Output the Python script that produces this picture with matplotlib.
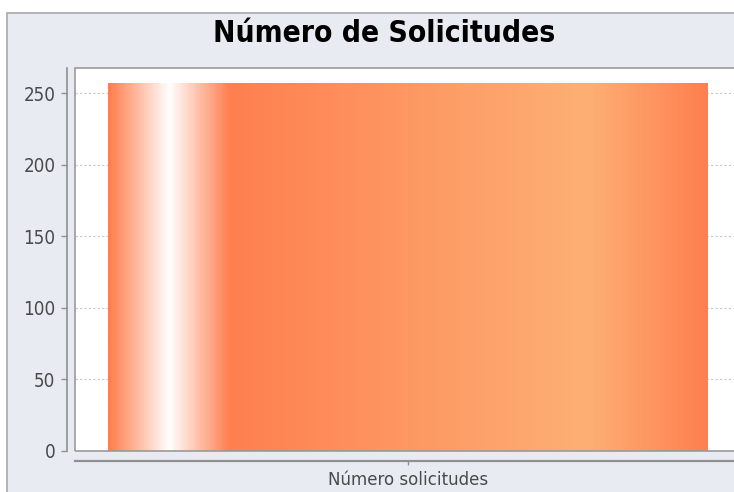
import numpy as np
import matplotlib
matplotlib.use("Agg")
import matplotlib.pyplot as plt
from matplotlib.colors import LinearSegmentedColormap
from matplotlib.patches import Rectangle

# ---- data ----
categories = ["Número solicitudes"]
values = [257]
yticks = [0, 50, 100, 150, 200, 250]
title = "Número de Solicitudes"

W, H = 734, 492
fig = plt.figure(figsize=(W / 100, H / 100), dpi=100)
fig.patch.set_facecolor("white")

def fx(px):
    return px / W

def fy(py):
    return 1 - py / H

# outer chart panel
panel = Rectangle((fx(7), -0.2), 1.2, fy(13) + 0.2, transform=fig.transFigure,
                  facecolor="#e9ebf3", edgecolor="#a8a8a8", linewidth=1.2, zorder=-10)
fig.patches.append(panel)

fig.text(fx(384), fy(34), title, ha="center", va="center", fontsize=21.5,
         fontweight="bold", color="black", fontstretch="condensed")

left, right, top, bottom = 75, 741, 68, 451
ax = fig.add_axes([fx(left), fy(bottom), fx(right - left), (bottom - top) / H])
ax.set_facecolor("white")

x = np.arange(len(categories))
bars = ax.bar(x, values, width=0.9, color="none", edgecolor="none", zorder=3)

# gradient fill (coral -> white -> coral -> light -> coral)
c0 = (255 / 255, 127 / 255, 80 / 255)
c1 = (253 / 255, 176 / 255, 116 / 255)
cmap = LinearSegmentedColormap.from_list(
    "grad", [(0.0, c0), (0.1, (1, 1, 1)), (0.2, c0), (0.8, c1), (1.0, c0)])
grad = np.linspace(0, 1, 600).reshape(1, -1)
for b in bars:
    x0, w, h = b.get_x(), b.get_width(), b.get_height()
    im = ax.imshow(grad, cmap=cmap, aspect="auto", extent=(x0, x0 + w, 0, h),
                   interpolation="bilinear", zorder=3)
    im.set_clip_path(b)
ax.set_xlim(-0.5, 0.5)
ax.set_ylim(0, 267.5)

# grid
ax.set_yticks(yticks)
ax.yaxis.grid(True, linestyle=(0, (2, 2)), color="#c8c8c8", linewidth=0.8, zorder=1)
ax.set_axisbelow(True)

# plot border
ax.add_patch(Rectangle((0, 0), 1, 1, transform=ax.transAxes, fill=False,
                       edgecolor="#9a9a9a", linewidth=1.2, clip_on=False, zorder=5))

for s in ["top", "right"]:
    ax.spines[s].set_visible(False)
ax.spines["left"].set_position(("outward", 6))
ax.spines["bottom"].set_position(("outward", 7))
ax.spines["left"].set_color("#909090")
ax.spines["bottom"].set_color("#909090")
ax.spines["left"].set_linewidth(1.2)
ax.spines["bottom"].set_linewidth(1.6)

ax.set_xticks(x)
ax.set_xticklabels([""])
ax.tick_params(axis="y", length=4, width=1, color="#909090", labelsize=13.5,
               labelcolor="#4a4a4a", pad=4)
for lbl in ax.get_yticklabels():
    lbl.set_fontstretch("condensed")
ax.tick_params(axis="x", length=3, width=1, color="#909090")
ax.set_xlabel(categories[0], fontsize=13.3, color="#4a4a4a", labelpad=1,
              fontstretch="condensed")

fig.savefig("out.png", dpi=100, facecolor=fig.get_facecolor())
